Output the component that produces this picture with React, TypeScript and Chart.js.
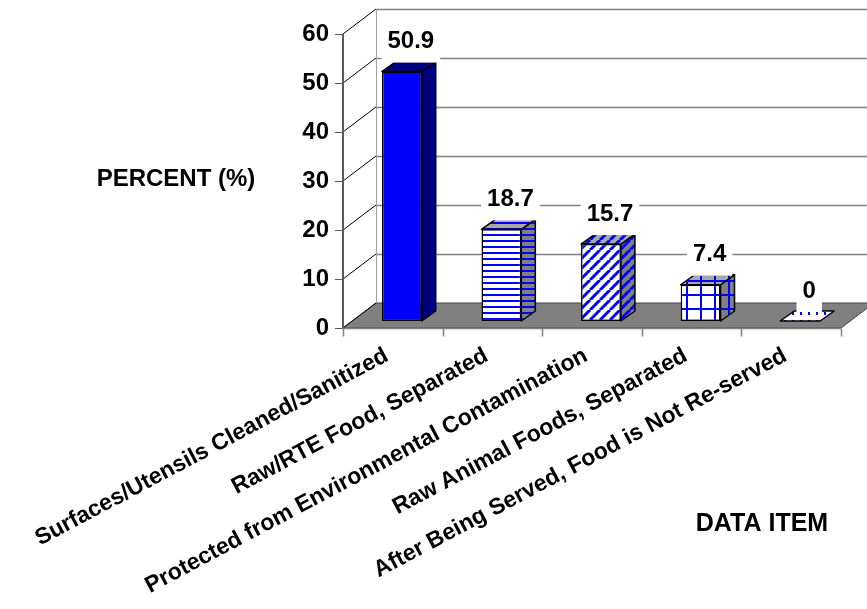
import { useEffect, useRef } from 'react';
import { Chart, registerables } from 'chart.js';

Chart.register(...registerables);

// ---------- data ----------
const CATEGORIES = [
  'Surfaces/Utensils Cleaned/Sanitized',
  'Raw/RTE Food, Separated',
  'Protected from Environmental Contamination',
  'Raw Animal Foods, Separated',
  'After Being Served, Food is Not Re-served',
];
const PERCENTS = [50.9, 18.7, 15.7, 7.4, 0];
const Y_MIN = 0;
const Y_MAX = 60;
const Y_STEP = 10;
const Y_TITLE = 'PERCENT (%)';
const X_TITLE = 'DATA ITEM';

// ---------- style ----------
const FONT = "'Liberation Sans', Arial, Helvetica, sans-serif";
const BLUE = '#0000FF';
const NAVY = '#000080';
const GREY = '#808080';
const FRONT = { dx: -9, dy: 7 };
const BACK = { dx: 24, dy: -18 };
const DEPTH = { dx: 14, dy: -10 };

type Kind = 'solid' | 'hstripe' | 'diag' | 'grid' | 'dots';
const KINDS: Kind[] = ['solid', 'hstripe', 'diag', 'grid', 'dots'];

function makePattern(ctx: CanvasRenderingContext2D, kind: Kind, bg: string | null, fg: string) {
  const c = document.createElement('canvas');
  let w = 8, h = 8;
  if (kind === 'hstripe') { w = 6; h = 6; }
  if (kind === 'diag') { w = 10; h = 10; }
  if (kind === 'grid') { w = 14; h = 14; }
  c.width = w; c.height = h;
  const g = c.getContext('2d')!;
  if (bg) { g.fillStyle = bg; g.fillRect(0, 0, w, h); }
  g.fillStyle = fg; g.strokeStyle = fg;
  if (kind === 'hstripe') {
    g.fillRect(0, 0, w, 2);
  } else if (kind === 'diag') {
    g.lineWidth = 3;
    for (const o of [-w, 0, w]) {
      g.beginPath();
      g.moveTo(o, h);
      g.lineTo(o + w, 0);
      g.stroke();
    }
  } else if (kind === 'grid') {
    g.fillRect(0, 0, w, 2);
    g.fillRect(0, 0, 2, h);
  } else if (kind === 'dots') {
    g.fillRect(0, 0, 2, 3);
  }
  return ctx.createPattern(c, 'repeat')!;
}

function poly(ctx: CanvasRenderingContext2D, pts: number[][]) {
  ctx.beginPath();
  ctx.moveTo(pts[0][0], pts[0][1]);
  for (let i = 1; i < pts.length; i++) ctx.lineTo(pts[i][0], pts[i][1]);
  ctx.closePath();
}

export default function App() {
  const canvasRef = useRef<HTMLCanvasElement | null>(null);

  useEffect(() => {
    const canvas = canvasRef.current!;
    const ctx0 = canvas.getContext('2d')!;

    const frontFills = KINDS.map((k) => (k === 'solid' ? BLUE : makePattern(ctx0, k, '#FFFFFF', BLUE)));
    const overlay = KINDS.map((k) => (k === 'solid' ? null : makePattern(ctx0, k, null, BLUE)));
    const sideBase = KINDS.map((k) => (k === 'solid' ? NAVY : GREY));
    const topBase = KINDS.map((k) => (k === 'solid' ? NAVY : k === 'dots' ? '#FFFFFF' : '#A8A8A8'));

    const framePlugin = {
      id: 'frame3d',
      beforeDatasetsDraw(chart: any) {
        const { ctx, chartArea: ca, scales } = chart;
        const ys = scales.y;
        const n = CATEGORIES.length;
        const y0 = ys.getPixelForValue(Y_MIN);
        const yTop = ys.getPixelForValue(Y_MAX);
        const fl = ca.left + FRONT.dx, fr = ca.right + FRONT.dx;
        const bl = ca.left + BACK.dx, br = ca.right + BACK.dx;
        ctx.save();
        // floor
        ctx.fillStyle = GREY;
        poly(ctx, [[fl, y0 + FRONT.dy], [fr, y0 + FRONT.dy], [br, y0 + BACK.dy], [bl, y0 + BACK.dy]]);
        ctx.fill();
        ctx.strokeStyle = '#404040';
        ctx.lineWidth = 1;
        ctx.stroke();
        // back wall gridlines
        const vals: number[] = ys.ticks.map((t: any) => t.value);
        ctx.strokeStyle = GREY;
        ctx.lineWidth = 1.5;
        for (const v of vals) {
          if (v === Y_MIN) continue;
          const py = Math.round(ys.getPixelForValue(v) + BACK.dy) + 0.5;
          ctx.beginPath();
          ctx.moveTo(bl, py);
          ctx.lineTo(br + 40, py);
          ctx.stroke();
        }
        // back wall left edge
        ctx.strokeStyle = '#A0A0A0';
        ctx.lineWidth = 1;
        ctx.beginPath();
        ctx.moveTo(Math.round(bl) + 0.5, yTop + BACK.dy);
        ctx.lineTo(Math.round(bl) + 0.5, y0 + BACK.dy);
        ctx.stroke();
        // side wall diagonals
        ctx.strokeStyle = '#000000';
        ctx.lineWidth = 1;
        for (const v of vals) {
          const py = ys.getPixelForValue(v);
          ctx.beginPath();
          ctx.moveTo(fl, py + FRONT.dy);
          ctx.lineTo(bl, py + BACK.dy);
          ctx.stroke();
        }
        // front value axis + ticks
        ctx.strokeStyle = '#5A5A5A';
        ctx.lineWidth = 2;
        ctx.beginPath();
        ctx.moveTo(fl, yTop + FRONT.dy);
        ctx.lineTo(fl, y0 + FRONT.dy + 1);
        ctx.stroke();
        ctx.lineWidth = 1;
        ctx.strokeStyle = '#5A5A5A';
        for (const v of vals) {
          const py = Math.round(ys.getPixelForValue(v) + FRONT.dy) + 0.5;
          ctx.beginPath();
          ctx.moveTo(fl - 8, py);
          ctx.lineTo(fl, py);
          ctx.stroke();
        }
        // front category axis + ticks
        const fy = Math.round(y0 + FRONT.dy) + 0.5;
        ctx.strokeStyle = GREY;
        ctx.lineWidth = 1.5;
        ctx.beginPath();
        ctx.moveTo(fl, fy);
        ctx.lineTo(fr, fy);
        ctx.stroke();
        ctx.lineWidth = 1.5;
        for (let i = 0; i <= n; i++) {
          const px = Math.round(fl + (i * ca.width) / n) + 0.5;
          ctx.beginPath();
          ctx.moveTo(px, fy);
          ctx.lineTo(px, fy + 8);
          ctx.stroke();
        }
        ctx.restore();
      },
      afterDatasetsDraw(chart: any) {
        const { ctx, chartArea: ca } = chart;
        const meta = chart.getDatasetMeta(0);
        ctx.save();
        ctx.lineJoin = 'round';
        ctx.strokeStyle = '#000000';
        ctx.lineWidth = 1.5;
        meta.data.forEach((bar: any, i: number) => {
          const { x, y, base, width } = bar.getProps(['x', 'y', 'base', 'width'], true);
          const l = x - width / 2, r = x + width / 2;
          const side = [[r, y], [r + DEPTH.dx, y + DEPTH.dy], [r + DEPTH.dx, base + DEPTH.dy], [r, base]];
          const top = [[l, y], [l + DEPTH.dx, y + DEPTH.dy], [r + DEPTH.dx, y + DEPTH.dy], [r, y]];
          if (base - y > 0.5) {
            poly(ctx, side);
            ctx.fillStyle = sideBase[i];
            ctx.fill();
            if (overlay[i]) { ctx.fillStyle = overlay[i]; ctx.fill(); }
            ctx.stroke();
          }
          poly(ctx, top);
          ctx.fillStyle = topBase[i];
          ctx.fill();
          if (overlay[i]) { ctx.fillStyle = overlay[i]; ctx.fill(); }
          ctx.stroke();
        });
        // value labels with white boxes
        ctx.font = `bold 24px ${FONT}`;
        ctx.textAlign = 'center';
        ctx.textBaseline = 'middle';
        meta.data.forEach((bar: any, i: number) => {
          const { x, y } = bar.getProps(['x', 'y'], true);
          const txt = String(PERCENTS[i]);
          const cx = x + 9, cy = y - 31;
          const tw = ctx.measureText(txt).width;
          ctx.fillStyle = '#FFFFFF';
          ctx.fillRect(cx - tw / 2 - 6, cy - 12, tw + 12, 34);
          ctx.fillStyle = '#000000';
          ctx.fillText(txt, cx, cy + 1);
        });
        // axis titles
        ctx.font = `bold 24px ${FONT}`;
        ctx.fillStyle = '#000000';
        ctx.textAlign = 'center';
        ctx.fillText(Y_TITLE, ca.left - 176, chart.scales.y.getPixelForValue(30) + 5);
        ctx.font = `bold 25px ${FONT}`;
        ctx.fillText(X_TITLE, ca.right - 88, ca.bottom + 203);
        ctx.restore();
      },
    };

    const chart = new Chart(canvas, {
      type: 'bar',
      data: {
        labels: CATEGORIES,
        datasets: [
          {
            data: PERCENTS,
            backgroundColor: frontFills as any,
            borderColor: '#000000',
            borderWidth: 1.5,
            borderSkipped: false,
            barPercentage: 0.4,
            categoryPercentage: 1,
          },
        ],
      },
      options: {
        responsive: false,
        animation: false,
        devicePixelRatio: 1,
        layout: { padding: { top: 27, right: 17, left: 0, bottom: 0 } },
        plugins: {
          legend: { display: false },
          tooltip: { enabled: false },
          title: { display: false },
        },
        scales: {
          x: {
            grid: { display: false, drawTicks: false },
            border: { display: false },
            ticks: {
              autoSkip: false,
              minRotation: 28,
              maxRotation: 28,
              padding: 21,
              labelOffset: -15,
              color: '#000000',
              font: { family: FONT, size: 23, weight: 'bold' },
            },
            afterFit: (s: any) => {
              s.height = 288;
              s.paddingLeft = 0;
              s.paddingRight = 0;
            },
          },
          y: {
            min: Y_MIN,
            max: Y_MAX,
            grid: { display: false, drawTicks: false },
            border: { display: false },
            ticks: {
              stepSize: Y_STEP,
              padding: 23,
              labelOffset: 7,
              color: '#000000',
              font: { family: FONT, size: 24, weight: 'bold' },
            },
            afterFit: (s: any) => {
              s.width = 352;
              s.paddingTop = 0;
              s.paddingBottom = 0;
            },
          },
        },
      } as any,
      plugins: [framePlugin],
    });

    return () => chart.destroy();
  }, []);

  return (
    <div style={{ position: 'absolute', left: 0, top: 0, width: 867, height: 609, background: '#FFFFFF' }}>
      <canvas ref={canvasRef} width={867} height={609} style={{ display: 'block' }} />
    </div>
  );
}
